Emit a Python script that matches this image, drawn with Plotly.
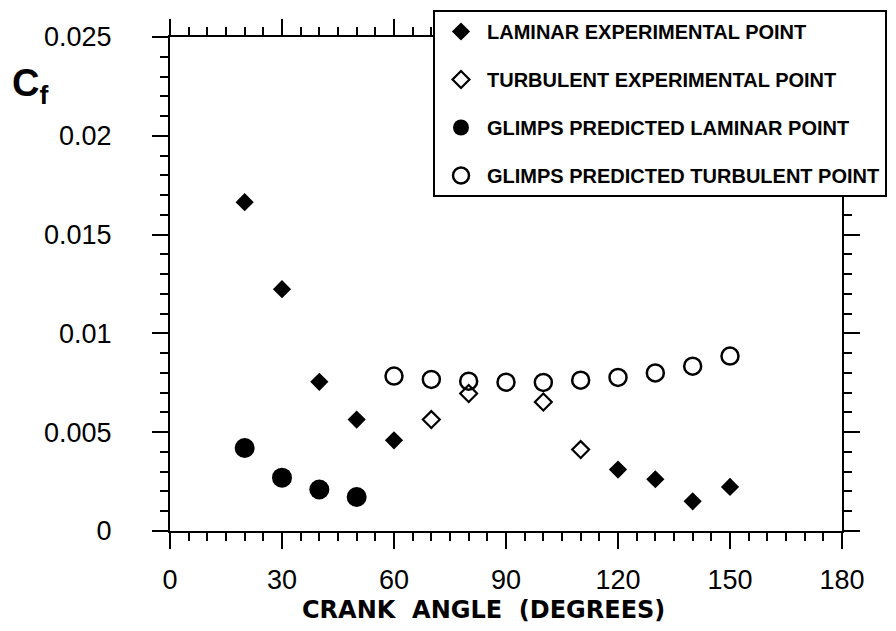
import plotly.graph_objects as go

# ---- data ----
lam_exp_x = [20, 30, 40, 50, 60, 120, 130, 140, 150]
lam_exp_y = [0.01664, 0.01224, 0.00755, 0.00564, 0.00459, 0.00311, 0.00262, 0.00150, 0.00223]

turb_exp_x = [70, 80, 100, 110]
turb_exp_y = [0.00564, 0.00696, 0.00653, 0.00412]

glimps_lam_x = [20, 30, 40, 50]
glimps_lam_y = [0.00420, 0.00270, 0.00210, 0.00172]

glimps_turb_x = [60, 70, 80, 90, 100, 110, 120, 130, 140, 150]
glimps_turb_y = [0.00784, 0.00767, 0.00758, 0.00753, 0.00752, 0.00763, 0.00777, 0.00800, 0.00834, 0.00885]

series_names = [
    "LAMINAR EXPERIMENTAL POINT",
    "TURBULENT EXPERIMENTAL POINT",
    "GLIMPS PREDICTED LAMINAR POINT",
    "GLIMPS PREDICTED TURBULENT POINT",
]

x_ticks = [0, 30, 60, 90, 120, 150, 180]
y_ticks = [0, 0.005, 0.01, 0.015, 0.02, 0.025]
y_tick_labels = ["0", "0.005", "0.01", "0.015", "0.02", "0.025"]

x_title = "CRANK  ANGLE  (DEGREES)"
y_title = "C<sub>f</sub>"

FONT = "Liberation Sans, Arial, Helvetica, sans-serif"
WIDE = "DejaVu Sans, Verdana, sans-serif"

# page offset of the figure inside the browser window (body margin)
OFF = 8
L, R, T, B = 170, 842, 37, 531          # target plot box in window pixels
PW, PH = R - L, B - T

fig = go.Figure()

fig.add_trace(go.Scatter(
    x=lam_exp_x, y=lam_exp_y, mode="markers", name=series_names[0],
    legendgroup="a",
    marker=dict(symbol="diamond", size=14, color="black", line=dict(width=0)),
))
fig.add_trace(go.Scatter(
    x=turb_exp_x, y=turb_exp_y, mode="markers", name=series_names[1],
    legendgroup="b",
    marker=dict(symbol="diamond-open", size=13, color="black", line=dict(width=2.2, color="black")),
))
fig.add_trace(go.Scatter(
    x=glimps_lam_x, y=glimps_lam_y, mode="markers", name=series_names[2],
    legendgroup="c",
    marker=dict(symbol="circle", size=20, color="black", line=dict(width=0)),
))
fig.add_trace(go.Scatter(
    x=glimps_turb_x, y=glimps_turb_y, mode="markers", name=series_names[3],
    legendgroup="d",
    marker=dict(symbol="circle-open", size=17, color="black", line=dict(width=2.5, color="black")),
))

axis_common = dict(
    showline=True, linecolor="black", linewidth=2,
    mirror="allticks", ticks="outside", ticklen=16, tickwidth=2, tickcolor="black",
    showgrid=False, zeroline=False,
    tickfont=dict(family=FONT, size=27, color="black"),
)

fig.update_xaxes(
    range=[0, 180], tickmode="array", tickvals=x_ticks,
    ticklabelstandoff=8,
    minor=dict(dtick=5, ticks="outside", ticklen=8, tickwidth=1.5, tickcolor="black", showgrid=False),
    **axis_common,
)
fig.update_yaxes(
    range=[0, 0.025], tickmode="array", tickvals=y_ticks, ticktext=y_tick_labels,
    ticklabelstandoff=35,
    minor=dict(dtick=0.001, ticks="outside", ticklen=8, tickwidth=1.5, tickcolor="black", showgrid=False),
    **axis_common,
)

fig.add_annotation(
    text=x_title, xref="paper", yref="paper",
    x=(483 - L) / PW, y=-(610 - B) / PH,
    showarrow=False, xanchor="center", yanchor="middle",
    font=dict(family=WIDE, size=24, color="black", weight="bold"),
)
fig.add_annotation(
    text=y_title, xref="paper", yref="paper",
    x=-(L - 10) / PW, y=1 - (86 - T) / PH,
    showarrow=False, xanchor="left", yanchor="middle",
    font=dict(family=FONT, size=38, color="black", weight="bold"),
)

fig.update_layout(
    width=896, height=631,
    margin=dict(l=L - OFF, r=896 - (R - OFF), t=T - OFF, b=631 - (B - OFF), autoexpand=False),
    paper_bgcolor="white", plot_bgcolor="white",
    showlegend=True,
    legend=dict(
        x=(433 - L) / PW, y=1 + (T - 10) / PH,
        xanchor="left", yanchor="top",
        bgcolor="white", bordercolor="black", borderwidth=2,
        font=dict(family=FONT, size=20, color="black", weight="bold"),
        tracegroupgap=19, itemwidth=42,
    ),
)

fig.write_html("out.html")
